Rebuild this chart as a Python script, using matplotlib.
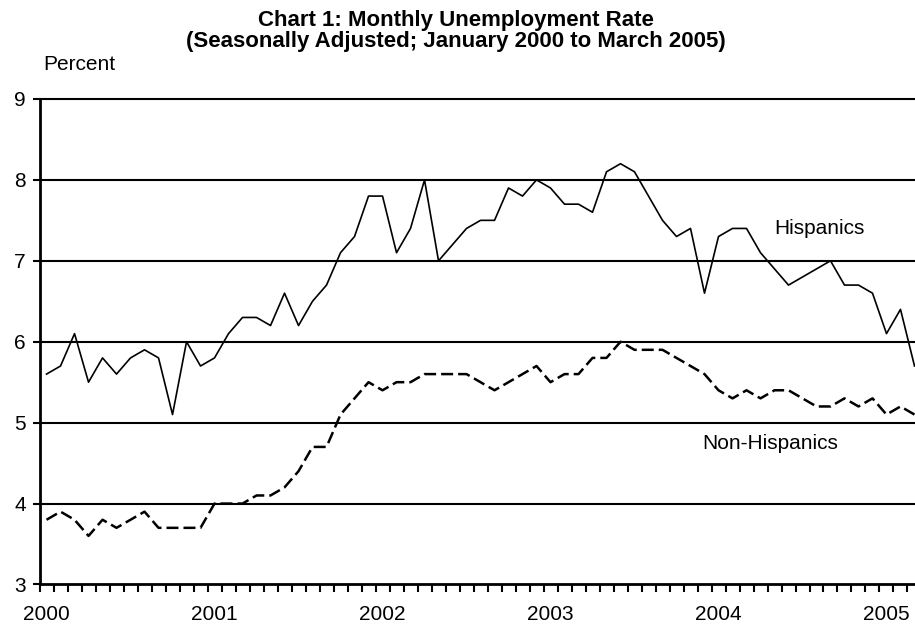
import matplotlib
matplotlib.use("Agg")
import matplotlib.pyplot as plt
from matplotlib.ticker import FixedLocator, NullFormatter

plt.rcParams["font.family"] = ["Liberation Sans", "DejaVu Sans"]

# monthly rates, Jan 2000 .. Mar 2005
hispanic = [
    5.6, 5.7, 6.1, 5.5, 5.8, 5.6, 5.8, 5.9, 5.8, 5.1, 6.0, 5.7,
    5.8, 6.1, 6.3, 6.3, 6.2, 6.6, 6.2, 6.5, 6.7, 7.1, 7.3, 7.8,
    7.8, 7.1, 7.4, 8.0, 7.0, 7.2, 7.4, 7.5, 7.5, 7.9, 7.8, 8.0,
    7.9, 7.7, 7.7, 7.6, 8.1, 8.2, 8.1, 7.8, 7.5, 7.3, 7.4, 6.6,
    7.3, 7.4, 7.4, 7.1, 6.9, 6.7, 6.8, 6.9, 7.0, 6.7, 6.7, 6.6,
    6.1, 6.4, 5.7,
]
non_hispanic = [
    3.8, 3.9, 3.8, 3.6, 3.8, 3.7, 3.8, 3.9, 3.7, 3.7, 3.7, 3.7,
    4.0, 4.0, 4.0, 4.1, 4.1, 4.2, 4.4, 4.7, 4.7, 5.1, 5.3, 5.5,
    5.4, 5.5, 5.5, 5.6, 5.6, 5.6, 5.6, 5.5, 5.4, 5.5, 5.6, 5.7,
    5.5, 5.6, 5.6, 5.8, 5.8, 6.0, 5.9, 5.9, 5.9, 5.8, 5.7, 5.6,
    5.4, 5.3, 5.4, 5.3, 5.4, 5.4, 5.3, 5.2, 5.2, 5.3, 5.2, 5.3,
    5.1, 5.2, 5.1,
]
years = ["2000", "2001", "2002", "2003", "2004", "2005"]
y_ticks = [3, 4, 5, 6, 7, 8, 9]

months = list(range(len(hispanic)))

fig = plt.figure(figsize=(9.15, 6.28), dpi=100)
# plot area runs a little past the right edge, like the cropped original
ax = fig.add_axes([0.0432, 0.0693, 0.9639, 0.7731])

ax.plot(months, hispanic, color="black", linewidth=1.2)
ax.plot(months, non_hispanic, color="black", linewidth=1.8,
        dashes=(4.8, 2.0))

ax.set_xlim(-0.5, len(months) - 0.5)
ax.set_ylim(3, 9)

# horizontal grid lines
for v in y_ticks[1:-1]:
    ax.axhline(v, color="black", linewidth=1.5, zorder=0)

ax.spines["right"].set_visible(False)
ax.spines["top"].set_linewidth(1.5)
ax.spines["left"].set_linewidth(2.0)
ax.spines["bottom"].set_linewidth(2.0)

ax.set_yticks(y_ticks)
ax.set_yticklabels([str(v) for v in y_ticks])
ax.tick_params(axis="y", direction="out", length=5, width=1.5, pad=5,
               labelsize=15)

ax.set_xticks([12 * i for i in range(len(years))])
ax.set_xticklabels(years)
ax.tick_params(axis="x", which="major", length=0, pad=15, labelsize=15)
ax.xaxis.set_minor_locator(FixedLocator([m - 0.5 for m in range(len(months) + 1)]))
ax.xaxis.set_minor_formatter(NullFormatter())
ax.tick_params(axis="x", which="minor", direction="out", length=5.5, width=1.5)

ax.text(55.2, 7.33, "Hispanics", fontsize=15, ha="center", va="baseline")
ax.text(51.7, 4.68, "Non-Hispanics", fontsize=15, ha="center", va="baseline")

fig.text(0.498, 1 - 26 / 628, "Chart 1: Monthly Unemployment Rate",
         fontsize=16, fontweight="bold", ha="center", va="baseline")
fig.text(0.498, 1 - 47 / 628,
         "(Seasonally Adjusted; January 2000 to March 2005)",
         fontsize=16, fontweight="bold", ha="center", va="baseline")
fig.text(43 / 915, 1 - 70 / 628, "Percent", fontsize=15, ha="left",
         va="baseline")

fig.savefig("out.png", dpi=100)
plt.close(fig)
